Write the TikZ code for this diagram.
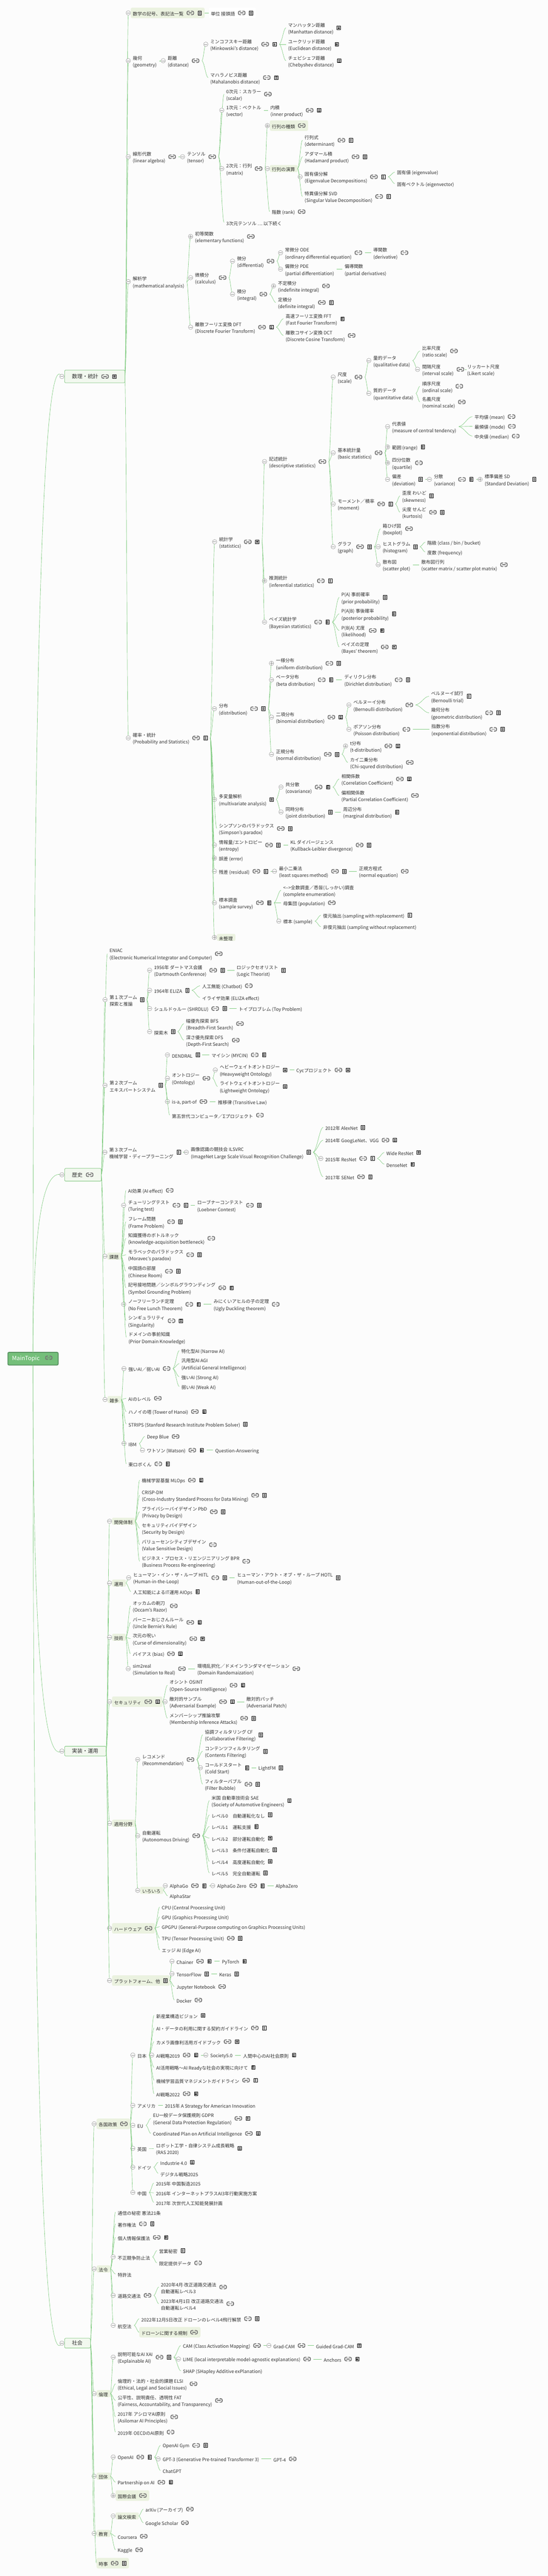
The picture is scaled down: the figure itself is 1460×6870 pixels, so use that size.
\documentclass[tikz,border=0pt]{standalone}
\usepackage{fontspec}
\setmainfont{Noto Sans CJK JP}
\usetikzlibrary{calc}
\definecolor{pagebg}{HTML}{FCFCFC}
\definecolor{hlg}{HTML}{EBF2E0}
\definecolor{hlw}{HTML}{FFFFFF}
\definecolor{connc}{HTML}{82CC82}
\definecolor{txtc}{HTML}{303030}
\definecolor{linkc}{HTML}{757575}
\definecolor{circc}{HTML}{9A9A9A}
\definecolor{topf}{HTML}{F2F8EF}
\definecolor{topd}{HTML}{7CC47C}
\definecolor{rootf}{HTML}{74BF7A}
\definecolor{rootd}{HTML}{4F8A58}
\tikzset{
  txt/.style={anchor=west,inner sep=0pt,outer sep=0pt,align=left,text=txtc,font=\fontsize{12.3}{18.4}\selectfont},
  conn/.style={draw=connc,line width=0.9pt},
  topbox/.style={anchor=west,inner xsep=20pt,inner ysep=0pt,outer sep=0pt,draw=topd,fill=topf,line width=1pt,rounded corners=2.5pt,align=left,text=txtc,font=\fontsize{14}{18}\selectfont},
  rootbox/.style={anchor=west,inner xsep=0pt,inner ysep=0pt,outer sep=0pt,draw=rootd,fill=rootf,line width=2pt,rounded corners=3pt,text=white,font=\fontsize{15.5}{18}\selectfont},
  lnk/.pic={\draw[linkc,line width=2.3pt,rounded corners=3.2pt,line cap=round] (-2.5,-4.6)--(-8.8,-4.6)--(-8.8,4.6)--(-2.5,4.6) (2.5,-4.6)--(8.8,-4.6)--(8.8,4.6)--(2.5,4.6);\draw[linkc,line width=2.3pt,line cap=round] (-3.8,0)--(3.8,0);},
  docu/.pic={\draw[black,fill=white,line width=0.9pt] (-4.6,-5.2) rectangle (4.6,5.2);\draw[black,line width=0.8pt] (-2.6,-2.6)--(2.6,-2.6) (-2.6,0)--(2.6,0) (-2.6,2.6)--(2.6,2.6);},
  cmin/.pic={\draw[circc,fill=pagebg,line width=0.8pt] (0,0) circle (6);\draw[circc,line width=0.8pt] (-4.2,0)--(4.2,0);},
  cplu/.pic={\draw[circc,fill=pagebg,line width=0.8pt] (0,0) circle (6);\draw[circc,line width=0.8pt] (-4.2,0)--(4.2,0) (0,-4.2)--(0,4.2);},
}
% [fill] name parent x y circle(N/m/p) icons(N/L/D/B) text
\newcommand\nd[8][none]{%
  \def\fk{7}\def\hh{14}%
  \if L#7 \def\fk{35}\fi
  \if D#7 \def\fk{26}\fi
  \if B#7 \def\fk{56}\fi
  \if N#7 \def\hh{9.5}\fi
  \coordinate (#2-e) at ({#4-6},{#5});
  \if m#6 \coordinate (#2-e) at ({#4-12},{#5});\fi
  \if p#6 \coordinate (#2-e) at ({#4-12},{#5});\fi
  \draw[conn] let \p1=(#3-f), \p2=(#2-e) in (\p1) .. controls ({\x1+.4*(\x2-\x1)},{\y1+.1*(\y2-\y1)}) and ({\x1+.65*(\x2-\x1)},{\y2-.02*(\y2-\y1)}) .. (\p2);
  \def\tmpa{#1}\def\tmpb{none}%
  \ifx\tmpa\tmpb\else
    \node[txt] (#2-p) at ({#4},{#5+3}) {\phantom{#8}};
    \fill[#1,rounded corners=4pt] ({#4-5.5},{#5-\hh}) rectangle ($(#2-p.east)+(\fk,{\hh-3})$);
  \fi
  \node[txt] (#2) at ({#4},{#5+3}) {#8};
  \if L#7 \pic at ($(#2.east)+(18,-3)$) {lnk};\fi
  \if D#7 \pic at ($(#2.east)+(14,-3)$) {docu};\fi
  \if B#7 \pic at ($(#2.east)+(18,-3)$) {lnk}; \pic at ($(#2.east)+(43,-3)$) {docu};\fi
  \coordinate (#2-f) at ($(#2.east)+(\fk,-3)$);
  \if m#6 \pic at (#2-e) {cmin};\fi
  \if p#6 \pic at (#2-e) {cplu};\fi
}
% name left textwidth cy height text rootport
\newcommand\tp[7]{%
  \coordinate (#1-e) at (165,#4);
  \draw[conn] let \p1=(#7), \p2=(#1-e) in (\p1) .. controls ({\x1},{\y1+.6*(\y2-\y1)}) and ({\x1+.25*(\x2-\x1)},{\y2-.04*(\y1-\y2)}) .. (\p2);
  \node[topbox,text width=#3pt,minimum height=#5pt] (#1) at (172,#4) {#6};
  \coordinate (#1-f) at (#1.east);
  \pic at (#1-e) {cmin};
}
\begin{document}
\begin{tikzpicture}[x=1pt,y=-1pt]
\path[use as bounding box,fill=pagebg] (0,0) rectangle (1460,6870);
\node[rootbox,minimum width=134pt,minimum height=34pt,text width=122pt,inner xsep=6pt,align=left] (root) at (21,3623.5) {\hspace{5pt}MainTopic};
\pic[scale=0.95] at (130,3621) {lnk};
\coordinate (roott) at (88,3606.5);
\coordinate (rootb) at (88,3640.5);
% ---- top level
\tp{ms}{172}{121}{1004}{34}{数理・統計}{roott}
\pic at (280,1004) {lnk}; \pic at (305,1004) {docu};
\tp{hs}{172}{58}{3133}{34}{歴史}{roott}
\pic at (239,3133) {lnk};
\tp{im}{172}{71}{4670}{26}{実装・運用}{rootb}
\tp{sk}{172}{29}{6249}{26}{社会}{rootb}
% ---- 数理・統計
\nd[hlg]{sg}{ms}{354}{34.5}{m}{B}{数学の記号、表記法一覧}
\nd[hlw]{tani}{sg}{562}{34.5}{N}{B}{単位 接頭語}
\nd{kika}{ms}{354}{162}{m}{N}{幾何\\(geometry)}
\nd{kyori}{kika}{447}{162}{m}{L}{距離\\(distance)}
\nd{mink}{kyori}{560.5}{118}{m}{B}{ミンコフスキー距離\\(Minkowski's distance)}
\nd{manh}{mink}{768}{74}{N}{D}{マンハッタン距離\\(Manhattan distance)}
\nd{eucl}{mink}{768}{118}{N}{D}{ユークリッド距離\\(Euclidean distance)}
\nd{cheb}{mink}{768}{162}{N}{D}{チェビシェフ距離\\(Chebyshev distance)}
\nd{maha}{kyori}{560.5}{207}{N}{B}{マハラノビス距離\\(Mahalanobis distance)}
\nd{senk}{ms}{354}{418}{m}{L}{線形代数\\(linear algebra)}
\nd{tens}{senk}{498.5}{418}{m}{L}{テンソル\\(tensor)}
\nd{d0}{tens}{603}{251}{N}{L}{0次元：スカラー\\(scalar)}
\nd{d1}{tens}{603}{294}{m}{N}{1次元：ベクトル\\(vector)}
\nd{naiseki}{d1}{720.7}{294}{N}{B}{内積\\(inner product)}
\nd{d2}{tens}{603}{449.7}{m}{L}{2次元：行列\\(matrix)}
\nd[hlg]{gshu}{d2}{724.7}{335}{p}{L}{行列の種類}
\nd[hlg]{gen}{d2}{724.7}{449.7}{m}{N}{行列の演算}
\nd{det}{gen}{812}{374}{N}{B}{行列式\\(determinant)}
\nd{hada}{gen}{812}{418}{N}{B}{アダマール積\\(Hadamard product)}
\nd{eig}{gen}{812}{471.5}{m}{B}{固有値分解\\(Eigenvalue Decompositions)}
\nd{eval}{eig}{1058}{459}{N}{N}{固有値 (eigenvalue)}
\nd{evec}{eig}{1058}{489.5}{N}{N}{固有ベクトル (eigenvector)}
\nd{svd}{gen}{812}{524}{N}{B}{特異値分解 SVD\\(Singular Value Decomposition)}
\nd{rank}{d2}{724.7}{564.5}{N}{L}{階数 (rank)}
\nd{d3}{tens}{603}{593}{N}{N}{3次元テンソル … 以下続く}
\nd{kaiseki}{ms}{354}{751}{m}{N}{解析学\\(mathematical analysis)}
\nd{shoto}{kaiseki}{520}{630.6}{p}{L}{初等関数\\(elementary functions)}
\nd{biseki}{kaiseki}{520}{740.5}{m}{L}{微積分\\(calculus)}
\nd{bibun}{biseki}{631.7}{696.4}{m}{L}{微分\\(differential)}
\nd{ode}{bibun}{759.7}{674}{m}{L}{常微分 ODE\\(ordinary differential equation)}
\nd{dokan}{ode}{995}{674}{N}{L}{導関数\\(derivative)}
\nd{pde}{bibun}{759.7}{718}{m}{N}{偏微分 PDE\\(partial differentiation)}
\nd{hendo}{pde}{918.7}{718}{N}{N}{偏導関数\\(partial derivatives)}
\nd{sekibun}{biseki}{631.7}{784.5}{m}{L}{積分\\(integral)}
\nd{futei}{sekibun}{741}{762.6}{p}{L}{不定積分\\(indefinite integral)}
\nd{teise}{sekibun}{741}{806.7}{N}{B}{定積分\\(definite integral)}
\nd{dft}{kaiseki}{520}{872.5}{m}{B}{離散フーリエ変換 DFT\\(Discrete Fourier Transform)}
\nd{fft}{dft}{761.4}{850}{N}{D}{高速フーリエ変換 FFT\\(Fast Fourier Transform)}
\nd{dct}{dft}{761.4}{894.7}{N}{L}{離散コサイン変換 DCT\\(Discrete Cosine Transform)}
\nd{kakuritsu}{ms}{354}{1968}{m}{B}{確率・統計\\(Probability and Statistics)}
\nd{tokei}{kakuritsu}{584}{1445}{m}{B}{統計学\\(statistics)}
\nd{kijutsu}{tokei}{717}{1231}{m}{L}{記述統計\\(descriptive statistics)}
\nd{shakudo}{kijutsu}{900}{1005.6}{m}{L}{尺度\\(scale)}
\nd{ryo}{shakudo}{995}{961.6}{m}{N}{量的データ\\(qualitative data)}
\nd{hiritsu}{ryo}{1125}{936}{N}{L}{比率尺度\\(ratio scale)}
\nd{kankaku}{ryo}{1125}{985}{m}{L}{間隔尺度\\(interval scale)}
\nd{likert}{kankaku}{1245}{985}{N}{N}{リッカート尺度\\(Likert scale)}
\nd{shitsu}{shakudo}{995}{1049}{m}{N}{質的データ\\(quantitative data)}
\nd{junjo}{shitsu}{1125}{1030}{N}{L}{順序尺度\\(ordinal scale)}
\nd{meigi}{shitsu}{1125}{1072}{N}{L}{名義尺度\\(nominal scale)}
\nd{kihon}{kijutsu}{900}{1207.6}{m}{L}{基本統計量\\(basic statistics)}
\nd{daihyo}{kihon}{1045}{1137.7}{m}{N}{代表値\\(measure of central tendency)}
\nd{heikin}{daihyo}{1265}{1111}{N}{L}{平均値 (mean)}
\nd{saihin}{daihyo}{1265}{1137}{N}{L}{最頻値 (mode)}
\nd{chuo}{daihyo}{1265}{1163}{N}{L}{中央値 (median)}
\nd{hani}{kihon}{1045}{1192}{p}{D}{範囲 (range)}
\nd{bunkai}{kihon}{1045}{1234.4}{p}{L}{四分位数\\(quartile)}
\nd{hensa}{kihon}{1045}{1278.5}{m}{D}{偏差\\(deviation)}
\nd{bunsan}{hensa}{1156.6}{1278.5}{m}{B}{分散\\(variance)}
\nd{sd}{bunsan}{1291.6}{1278.5}{p}{D}{標準偏差 SD\\(Standard Deviation)}
\nd{moment}{kijutsu}{900}{1344}{m}{B}{モーメント／積率\\(moment)}
\nd{skew}{moment}{1072}{1322.5}{N}{D}{歪度 わいど\\(skewness)}
\nd{kurt}{moment}{1072}{1366}{N}{B}{尖度 せんど\\(kurtosis)}
\nd{graph}{kijutsu}{900}{1458}{m}{B}{グラフ\\(graph)}
\nd{boxp}{graph}{1020}{1410}{N}{L}{箱ひげ図\\(boxplot)}
\nd{hist}{graph}{1020}{1458}{m}{D}{ヒストグラム\\(histogram)}
\nd{kaikyu}{hist}{1139}{1446}{N}{N}{階級 (class / bin / bucket)}
\nd{dosu}{hist}{1139}{1472}{N}{N}{度数 (frequency)}
\nd{scat}{graph}{1020}{1506}{m}{N}{散布図\\(scatter plot)}
\nd{scatm}{scat}{1123}{1506}{N}{L}{散布図行列\\(scatter matrix / scatter plot matrix)}
\nd{suisoku}{tokei}{717}{1549}{p}{B}{推測統計\\(inferential statistics)}
\nd{bayes}{tokei}{717}{1659}{m}{B}{ベイズ統計学\\(Bayesian statistics)}
\nd{pa}{bayes}{910}{1593}{N}{D}{P(A) 事前確率\\(prior probability)}
\nd{pab}{bayes}{910}{1637}{N}{D}{P(A|B) 事後確率\\(posterior probability)}
\nd{pba}{bayes}{910}{1681.4}{N}{B}{P(B|A) 尤度\\(likelihood)}
\nd{bth}{bayes}{910}{1725.4}{N}{B}{ベイズの定理\\(Bayes' theorem)}
\nd{bunpu}{kakuritsu}{583.5}{1890}{m}{B}{分布\\(distribution)}
\nd{ichiyo}{bunpu}{735.6}{1769}{p}{B}{一様分布\\(uniform distribution)}
\nd{beta}{bunpu}{735.6}{1813}{m}{B}{ベータ分布\\(beta distribution)}
\nd{diri}{beta}{917.5}{1813}{N}{B}{ディリクレ分布\\(Dirichlet distribution)}
\nd{nikou}{bunpu}{735.6}{1912.5}{m}{B}{二項分布\\(binomial distribution)}
\nd{bern}{nikou}{942}{1880}{m}{L}{ベルヌーイ分布\\(Bernoulli distribution)}
\nd{berntr}{bern}{1149}{1857}{N}{D}{ベルヌーイ試行\\(Bernoulli trial)}
\nd{kikabu}{bern}{1149}{1901}{N}{B}{幾何分布\\(geometric distribution)}
\nd{poi}{nikou}{942}{1945}{m}{L}{ポアソン分布\\(Poisson distribution)}
\nd{expd}{poi}{1150}{1945}{N}{B}{指数分布\\(exponential distribution)}
\nd{seiki}{bunpu}{735.6}{2011.6}{m}{B}{正規分布\\(normal distribution)}
\nd{tdist}{seiki}{933}{1989.4}{p}{B}{t分布\\(t-distribution)}
\nd{chi}{seiki}{933}{2033.4}{N}{L}{カイ二乗分布\\(Chi-squred distribution)}
\nd{tahen}{kakuritsu}{583.5}{2132}{m}{D}{多変量解析\\(multivariate analysis)}
\nd{kyobun}{tahen}{761}{2099}{m}{B}{共分散\\(covariance)}
\nd{sokan}{kyobun}{910}{2077.5}{N}{B}{相関係数\\(Correlation Coefficient)}
\nd{hensokan}{kyobun}{910}{2121.5}{N}{L}{偏相関係数\\(Partial Correlation Coefficient)}
\nd{doji}{tahen}{761}{2165.5}{m}{D}{同時分布\\(joint distribution)}
\nd{shuhen}{doji}{914.7}{2165.5}{N}{D}{周辺分布\\(marginal distribution)}
\nd{simp}{kakuritsu}{583.5}{2209.5}{N}{B}{シンプソンのパラドックス\\(Simpson's paradox)}
\nd{ent}{kakuritsu}{583.5}{2253.5}{m}{B}{情報量/エントロピー\\(entropy)}
\nd{kl}{ent}{774}{2253.5}{N}{B}{KL ダイバージェンス\\(Kullback-Leibler divergence)}
\nd{gosa}{kakuritsu}{583.5}{2288.7}{p}{N}{誤差 (error)}
\nd{zansa}{kakuritsu}{583.5}{2323.5}{m}{B}{残差 (residual)}
\nd{lsq}{zansa}{743.6}{2323.5}{m}{B}{最小二乗法\\(least squares method)}
\nd{neq}{lsq}{956.6}{2323.5}{N}{L}{正規方程式\\(normal equation)}
\nd{survey}{kakuritsu}{583.5}{2407.6}{m}{B}{標本調査\\(sample survey)}
\nd{zensu}{survey}{755}{2374}{N}{N}{<-->全数調査／悉皆(しっかい)調査\\(complete enumeration)}
\nd{boshu}{survey}{755}{2407.6}{N}{L}{母集団 (population)}
\nd{hyohon}{survey}{755}{2456.6}{m}{N}{標本 (sample)}
\nd{fukugen}{hyohon}{861}{2440.6}{N}{D}{復元抽出 (sampling with replacement)}
\nd{hifuku}{hyohon}{861}{2471.6}{N}{N}{非復元抽出 (sampling without replacement)}
\nd[hlg]{miseiri}{kakuritsu}{583.5}{2500}{p}{N}{未整理}
% ---- 歴史
\nd{eniac}{hs}{292}{2543.5}{N}{L}{ENIAC\\(Electronic Numerical Integrator and Computer)}
\nd{boom1}{hs}{292}{2666}{m}{D}{第１次ブーム\\探索と推論}
\nd{dart}{boom1}{410.7}{2587.5}{m}{B}{1956年 ダートマス会議\\(Dartmouth Conference)}
\nd{logic}{dart}{630.5}{2587.5}{N}{D}{ロジックセオリスト\\(Logic Theorist)}
\nd{eliza}{boom1}{410.7}{2641}{m}{D}{1964年 ELIZA}
\nd{chatb}{eliza}{538.7}{2628.9}{N}{L}{人工無能 (Chatbot)}
\nd{elizae}{eliza}{538.7}{2660}{N}{N}{イライザ効果 (ELIZA effect)}
\nd{shrd}{boom1}{410.7}{2689.7}{m}{B}{シュルドゥルー (SHRDLU)}
\nd{toy}{shrd}{636.3}{2689.7}{N}{N}{トイプロブレム (Toy Problem)}
\nd{tree}{boom1}{410.7}{2751.3}{m}{D}{探索木}
\nd{bfs}{tree}{496}{2730}{N}{L}{幅優先探索 BFS\\(Breadth-First Search)}
\nd{dfs}{tree}{496}{2774}{N}{L}{深さ優先探索 DFS\\(Depth-First Search)}
\nd{boom2}{hs}{292}{2894.4}{m}{D}{第２次ブーム\\エキスパートシステム}
\nd{dend}{boom2}{458.3}{2813.3}{m}{D}{DENDRAL}
\nd{mycin}{dend}{564}{2813.3}{N}{B}{マイシン (MYCIN)}
\nd{onto}{boom2}{458.3}{2875.7}{m}{L}{オントロジー\\(Ontology)}
\nd{heavy}{onto}{585.8}{2853.5}{m}{D}{ヘビーウェイトオントロジー\\(Heavyweight Ontology)}
\nd{cyc}{heavy}{790}{2853.5}{N}{B}{Cycプロジェクト}
\nd{light}{onto}{585.8}{2897.5}{N}{D}{ライトウェイトオントロジー\\(Lightweight Ontology)}
\nd{isa}{boom2}{458.3}{2937.7}{m}{L}{is-a, part-of}
\nd{trans}{isa}{581}{2937.7}{N}{N}{推移律 (Transitive Law)}
\nd{fifth}{boom2}{458.3}{2974}{N}{L}{第五世代コンピュータ／Σプロジェクト}
\nd{boom3}{hs}{291.6}{3073}{m}{D}{第３次ブーム\\機械学習・ディープラーニング}
\nd{ilsvrc}{boom3}{508.6}{3073}{m}{D}{画像認識の競技会 ILSVRC\\(ImageNet Large Scale Visual Recognition Challenge)}
\nd{y12}{ilsvrc}{867}{3006.6}{N}{D}{2012年 AlexNet}
\nd{y14}{ilsvrc}{867}{3040.6}{N}{B}{2014年 GoogLeNet、VGG}
\nd{y15}{ilsvrc}{867}{3089.5}{m}{B}{2015年 ResNet}
\nd{wide}{y15}{1030}{3073.3}{N}{D}{Wide ResNet}
\nd{dense}{y15}{1030}{3104.8}{N}{D}{DenseNet}
\nd{y17}{ilsvrc}{867}{3138.4}{N}{B}{2017年 SENet}
\nd[hlg]{kadai}{hs}{291.6}{3350}{m}{N}{課題}
\nd{aieff}{kadai}{341.6}{3174.5}{N}{L}{AI効果 (AI effect)}
\nd{turing}{kadai}{341.6}{3214.3}{m}{B}{チューリングテスト\\(Turing test)}
\nd{loeb}{turing}{525.8}{3214.3}{N}{B}{ローブナーコンテスト\\(Loebner Contest)}
\nd{frame}{kadai}{341.6}{3258.3}{N}{B}{フレーム問題\\(Frame Problem)}
\nd{botl}{kadai}{341.6}{3302.3}{N}{L}{知識獲得のボトルネック\\(knowledge-acquisition bottleneck)}
\nd{mora}{kadai}{341.6}{3346.3}{N}{B}{モラベックのパラドックス\\(Moravec's paradox)}
\nd{chroom}{kadai}{341.6}{3390.3}{N}{B}{中国語の部屋\\(Chinese Room)}
\nd{symb}{kadai}{341.6}{3434.5}{N}{B}{記号接地問題／シンボルグラウンディング\\(Symbol Grounding Problem)}
\nd{nfl}{kadai}{341.6}{3478.4}{m}{B}{ノーフリーランチ定理\\(No Free Lunch Theorem)}
\nd{ugly}{nfl}{569.5}{3478.4}{N}{L}{みにくいアヒルの子の定理\\(Ugly Duckling theorem)}
\nd{sing}{kadai}{341.6}{3522.4}{N}{B}{シンギュラリティ\\(Singularity)}
\nd{prior}{kadai}{342.6}{3566.4}{N}{N}{ドメインの事前知識\\(Prior Domain Knowledge)}
\nd[hlg]{zatta}{hs}{292}{3732.4}{m}{N}{雑多}
\nd{strong}{zatta}{342.4}{3649.8}{m}{L}{強いAI／弱いAI}
\nd{narrow}{strong}{483.6}{3602}{N}{N}{特化型AI (Narrow AI)}
\nd{agi}{strong}{483.6}{3636.4}{N}{N}{汎用型AI AGI\\(Artificial General Intelligence)}
\nd{sai}{strong}{483.6}{3671.6}{N}{N}{強いAI (Strong AI)}
\nd{wai}{strong}{483.6}{3697.6}{N}{N}{弱いAI (Weak AI)}
\nd{ailv}{zatta}{342.4}{3729}{N}{L}{AIのレベル}
\nd{hanoi}{zatta}{342.4}{3764.6}{N}{B}{ハノイの塔 (Tower of Hanoi)}
\nd{strips}{zatta}{342.4}{3797.9}{N}{D}{STRIPS (Stanford Research Institute Problem Solver)}
\nd{ibm}{zatta}{342.4}{3849.5}{m}{N}{IBM}
\nd{dblue}{ibm}{391.7}{3831}{N}{L}{Deep Blue}
\nd{watson}{ibm}{391.7}{3867.5}{m}{B}{ワトソン (Watson)}
\nd{qa}{watson}{573.7}{3867.5}{N}{N}{Question-Answering}
\nd{torobo}{zatta}{342.4}{3904}{N}{B}{東ロボくん}
% ---- 実装・運用
\nd[hlg]{kaihatsu}{im}{304}{4057}{m}{N}{開発体制}
\nd{mlops}{kaihatsu}{378}{3947.5}{N}{B}{機械学習基盤 MLOps}
\nd{crisp}{kaihatsu}{378}{3987.7}{N}{B}{CRISP-DM\\(Cross-Industry Standard Process for Data Mining)}
\nd{pbd}{kaihatsu}{378}{4031.7}{N}{B}{プライバシーバイデザイン PbD\\(Privacy by Design)}
\nd{sbd}{kaihatsu}{378}{4075.7}{N}{N}{セキュリティバイデザイン\\(Security by Design)}
\nd{vsd}{kaihatsu}{378}{4119.7}{N}{L}{バリューセンシティブデザイン\\(Value Sensitive Design)}
\nd{bpr}{kaihatsu}{378}{4163.7}{N}{L}{ビジネス・プロセス・リエンジニアリング BPR\\(Business Process Re-engineering)}
\nd[hlg]{unyo}{im}{304}{4222}{m}{N}{運用}
\nd{hitl}{unyo}{355}{4207.6}{m}{B}{ヒューマン・イン・ザ・ループ HITL\\(Human-in-the-Loop)}
\nd{hotl}{hitl}{631.7}{4207.6}{N}{D}{ヒューマン・アウト・オブ・ザ・ループ HOTL\\(Human-out-of-the-Loop)}
\nd{aiops}{unyo}{355}{4244.8}{N}{D}{人工知能によるIT運用 AIOps}
\nd[hlg]{gijutsu}{im}{304}{4366.5}{m}{N}{技術}
\nd{occam}{gijutsu}{353.8}{4282.7}{N}{L}{オッカムの剃刀\\(Occam's Razor)}
\nd{bernie}{gijutsu}{353.8}{4326.7}{N}{B}{バーニーおじさんルール\\(Uncle Bernie's Rule)}
\nd{curse}{gijutsu}{353.8}{4370.3}{N}{B}{次元の呪い\\(Curse of dimensionality)}
\nd[hlw]{bias}{gijutsu}{353.8}{4410.5}{N}{B}{バイアス (bias)}
\nd{simr}{gijutsu}{353.8}{4450.3}{m}{L}{sim2real\\(Simulation to Real)}
\nd{domr}{simr}{526}{4450.3}{N}{L}{環境乱択化／ドメインランダマイゼーション\\(Domain Randomaization)}
\nd[hlg]{sec}{im}{304}{4538.3}{m}{B}{セキュリティ}
\nd{osint}{sec}{452}{4494.3}{N}{B}{オシント OSINT\\(Open-Source Intelligence)}
\nd{adv}{sec}{452}{4538.3}{m}{B}{敵対的サンプル\\(Adversarial Example)}
\nd{patch}{adv}{657}{4538.3}{N}{N}{敵対的パッチ\\(Adversarial Patch)}
\nd{member}{sec}{452}{4582.3}{N}{B}{メンバーシップ推論攻撃\\(Membership Inference Attacks)}
\nd[hlg]{tekiyo}{im}{304}{4862.4}{m}{N}{適用分野}
\nd{reco}{tekiyo}{379}{4692.5}{m}{L}{レコメンド\\(Recommendation)}
\nd{cf}{reco}{546}{4626.3}{N}{D}{協調フィルタリング CF\\(Collaborative Filtering)}
\nd{contf}{reco}{546}{4670.3}{N}{D}{コンテンツフィルタリング\\(Contents Filtering)}
\nd{cold}{reco}{546}{4714.3}{m}{D}{コールドスタート\\(Cold Start)}
\nd{lfm}{cold}{689}{4714.3}{N}{D}{LightFM}
\nd{fbub}{reco}{546}{4758.3}{N}{B}{フィルターバブル\\(Filter Bubble)}
\nd{auto}{tekiyo}{379}{4895.7}{m}{L}{自動運転\\(Autonomous Driving)}
\nd{sae}{auto}{564}{4802}{N}{D}{米国 自動車技術会 SAE\\(Society of Automotive Engineers)}
\nd{lv0}{auto}{564}{4840}{N}{D}{レベル0\quad 自動運転化なし}
\nd{lv1}{auto}{564}{4871}{N}{D}{レベル1\quad 運転支援}
\nd{lv2}{auto}{564}{4902}{N}{D}{レベル2\quad 部分運転自動化}
\nd{lv3}{auto}{564}{4933}{N}{D}{レベル3\quad 条件付運転自動化}
\nd{lv4}{auto}{564}{4964}{N}{D}{レベル4\quad 高度運転自動化}
\nd{lv5}{auto}{564}{4995}{N}{D}{レベル5\quad 完全自動運転}
\nd[hlg]{iroiro}{tekiyo}{379}{5041.5}{m}{N}{いろいろ}
\nd{ago}{iroiro}{452.6}{5028.9}{m}{B}{AlphaGo}
\nd{agoz}{ago}{579}{5028.9}{m}{B}{AlphaGo Zero}
\nd{azero}{agoz}{735}{5028.9}{N}{N}{AlphaZero}
\nd{astar}{iroiro}{452.6}{5056}{N}{N}{AlphaStar}
\nd[hlg]{hw}{im}{304}{5142.5}{m}{L}{ハードウェア}
\nd{cpu}{hw}{431.3}{5086}{N}{N}{CPU (Central Processing Unit)}
\nd{gpu}{hw}{431.3}{5112}{N}{N}{GPU (Graphics Processing Unit)}
\nd{gpgpu}{hw}{431.3}{5138}{N}{N}{GPGPU (General-Purpose computing on Graphics Processing Units)}
\nd{tpu}{hw}{431.3}{5169}{N}{B}{TPU (Tensor Processing Unit)}
\nd{edge}{hw}{431.3}{5200}{N}{N}{エッジ AI (Edge AI)}
\nd[hlg]{pf}{im}{304}{5282}{m}{D}{プラットフォーム、他}
\nd{chainer}{pf}{470.4}{5230.5}{m}{B}{Chainer}
\nd{pyt}{chainer}{591.5}{5230.5}{N}{D}{PyTorch}
\nd{tf}{pf}{470.4}{5263.8}{m}{D}{TensorFlow}
\nd{keras}{tf}{584.6}{5263.8}{N}{D}{Keras}
\nd{jup}{pf}{470.4}{5297.9}{N}{L}{Jupyter Notebook}
\nd{docker}{pf}{470.4}{5333.9}{N}{L}{Docker}
% ---- 社会
\nd[hlg]{seisaku}{sk}{263}{5664}{m}{L}{各国政策}
\nd{jp}{seisaku}{366}{5480.7}{m}{N}{日本}
\nd{shinsan}{jp}{416.4}{5374.8}{N}{D}{新産業構造ビジョン}
\nd{keiyaku}{jp}{416.4}{5408.4}{N}{B}{AI・データの利用に関する契約ガイドライン}
\nd{camera}{jp}{416.4}{5444.8}{N}{B}{カメラ画像利活用ガイドブック}
\nd{ai19}{jp}{416.4}{5480.7}{m}{B}{AI戦略2019}
\nd{soc5}{ai19}{560.5}{5480.7}{m}{N}{Society5.0}
\nd{ningen}{soc5}{647.8}{5480.7}{N}{D}{人間中心のAI社会原則}
\nd{katsuyo}{jp}{416.4}{5513.3}{N}{D}{AI活用戦略～AI Readyな社会の実現に向けて}
\nd{hinshitsu}{jp}{416.4}{5547.7}{N}{B}{機械学習品質マネジメントガイドライン}
\nd{ai22}{jp}{416.4}{5583.7}{N}{B}{AI戦略2022}
\nd{us}{seisaku}{366}{5614.7}{m}{N}{アメリカ}
\nd{usstr}{us}{440}{5614.7}{N}{N}{2015年 A Strategy for American Innovation}
\nd{eu}{seisaku}{366}{5667.9}{m}{N}{EU}
\nd{gdpr}{eu}{407.8}{5649.5}{N}{B}{EU一般データ保護規則 GDPR\\(General Data Protection Regulation)}
\nd{coord}{eu}{407.8}{5689.7}{N}{B}{Coordinated Plan on Artificial Intelligence}
\nd{uk}{seisaku}{366}{5729.5}{m}{N}{英国}
\nd{ras}{uk}{415.8}{5729.5}{N}{D}{ロボット工学・自律システム成長戦略\\(RAS 2020)}
\nd{de}{seisaku}{366}{5779.6}{m}{N}{ドイツ}
\nd{ind4}{de}{427.3}{5766.6}{N}{D}{Industrie 4.0}
\nd{digi}{de}{427.3}{5796}{N}{N}{デジタル戦略2025}
\nd{cn}{seisaku}{366}{5847}{m}{N}{中国}
\nd{cn15}{cn}{415.8}{5822}{N}{N}{2015年 中国製造2025}
\nd{cn16}{cn}{415.8}{5848}{N}{N}{2016年 インターネットプラスAI3年行動実施方案}
\nd{cn17}{cn}{415.8}{5873.5}{N}{N}{2017年 次世代人工知能発展計画}
\nd[hlg]{horei}{sk}{263}{6051}{m}{N}{法令}
\nd{tsushin}{horei}{313.7}{5899.5}{N}{N}{通信の秘密 憲法21条}
\nd{chosaku}{horei}{313.7}{5930.8}{N}{B}{著作権法}
\nd{kojin}{horei}{313.7}{5966.8}{N}{B}{個人情報保護法}
\nd{fusei}{horei}{313.7}{6018.9}{m}{N}{不正競争防止法}
\nd{eigyo}{fusei}{423.9}{6002}{N}{D}{営業秘密}
\nd{gentei}{fusei}{423.9}{6035}{N}{L}{限定提供データ}
\nd{tokkyo}{horei}{313.7}{6064.7}{N}{N}{特許法}
\nd{doro}{horei}{313.7}{6121.5}{m}{L}{道路交通法}
\nd{doro20}{doro}{429}{6099.3}{N}{L}{2020年4月 改正道路交通法\\自動運転レベル3}
\nd{doro23}{doro}{429}{6143.7}{N}{L}{2023年4月1日 改正道路交通法\\自動運転レベル4}
\nd{koku}{horei}{313.7}{6201.4}{m}{N}{航空法}
\nd{drone22}{koku}{376.8}{6183.7}{N}{B}{2022年12月5日改正 ドローンのレベル4飛行解禁}
\nd[hlg]{dronereg}{koku}{376.8}{6219.8}{N}{L}{ドローンに関する規制}
\nd[hlg]{rinri}{sk}{263}{6383.5}{m}{N}{倫理}
\nd{xai}{rinri}{313.7}{6286.3}{m}{B}{説明可能なAI XAI\\(Explainable AI)}
\nd{cam}{xai}{487.6}{6255.3}{N}{L}{CAM (Class Activation Mapping)}
\nd{gcam}{cam}{728.7}{6255.3}{m}{L}{Grad-CAM}
\nd{ggcam}{gcam}{842.4}{6255.3}{N}{D}{Guided Grad-CAM}
\nd{lime}{xai}{487.6}{6291.3}{m}{L}{LIME (local interpretable model-agnostic explanations)}
\nd{anchors}{lime}{863}{6291.3}{N}{B}{Anchors}
\nd{shap}{xai}{487.6}{6322.7}{N}{N}{SHAP (SHapley Additive exPlanation)}
\nd{elsi}{rinri}{313.7}{6357.4}{N}{L}{倫理的・法的・社会的課題 ELSI\\(Ethical, Legal and Social Issues)}
\nd{fat}{rinri}{313.7}{6401.8}{N}{L}{公平性、説明責任、透明性 FAT\\(Fairness, Accountability, and Transparency)}
\nd{asil}{rinri}{313.7}{6445.6}{N}{L}{2017年 アシロマAI原則\\(Asilomar AI Principles)}
\nd{oecd}{rinri}{313.7}{6486}{N}{L}{2019年 OECDのAI原則}
\nd[hlg]{dantai}{sk}{263}{6603.8}{m}{N}{団体}
\nd{oai}{dantai}{313.7}{6552.7}{m}{B}{OpenAI}
\nd{gym}{oai}{433.6}{6521.6}{N}{B}{OpenAI Gym}
\nd{gpt3}{oai}{433.6}{6557.7}{m}{N}{GPT-3 (Generative Pre-trained Transformer 3)}
\nd{gpt4}{gpt3}{728.7}{6557.7}{N}{L}{GPT-4}
\nd{cgpt}{oai}{433.6}{6588.6}{N}{N}{ChatGPT}
\nd{pai}{dantai}{313.7}{6619.9}{N}{B}{Partnership on AI}
\nd[hlg]{kaigi}{dantai}{313.7}{6655.4}{p}{L}{国際会議}
\nd[hlg]{kyoiku}{sk}{263}{6756.4}{m}{N}{教育}
\nd[hlg]{ronbun}{kyoiku}{313.7}{6709.8}{m}{N}{論文検索}
\nd{arxiv}{ronbun}{387.7}{6691.5}{N}{L}{arXiv (アーカイブ)}
\nd{gs}{ronbun}{387.7}{6728}{N}{L}{Google Scholar}
\nd{coursera}{kyoiku}{313.7}{6764}{N}{L}{Coursera}
\nd{kaggle}{kyoiku}{313.7}{6800}{N}{L}{Kaggle}
\nd[hlg]{jiji}{sk}{263}{6835.7}{N}{B}{時事}
\end{tikzpicture}
\end{document}
